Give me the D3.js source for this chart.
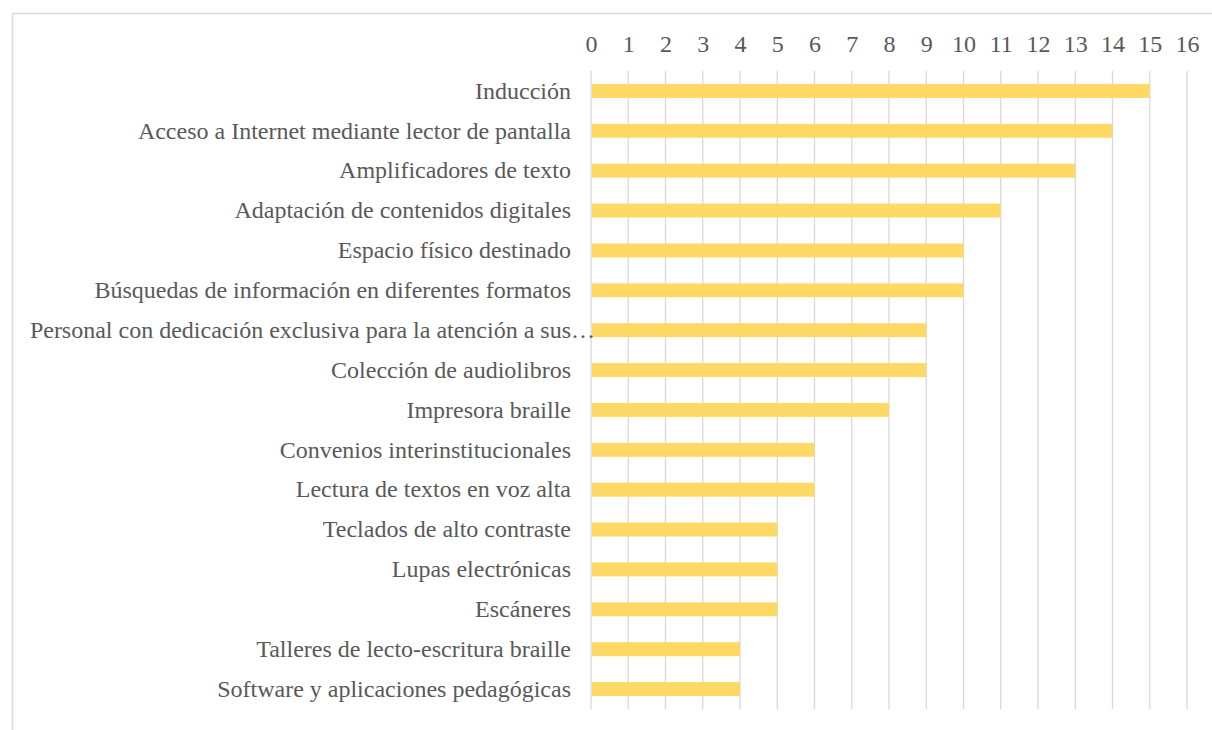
<!DOCTYPE html>
<html>
<head>
<meta charset="utf-8">
<script src="https://cdn.jsdelivr.net/npm/d3@7"></script>
<style>
  body { margin: 0; background: #fff; }
</style>
</head>
<body>
<div id="chart"></div>
<script>
var categories = [
  "Inducción",
  "Acceso a Internet mediante lector de pantalla",
  "Amplificadores de texto",
  "Adaptación de contenidos digitales",
  "Espacio físico destinado",
  "Búsquedas de información en diferentes formatos",
  "Personal con dedicación exclusiva para la atención a sus…",
  "Colección de audiolibros",
  "Impresora braille",
  "Convenios interinstitucionales",
  "Lectura de textos en voz alta",
  "Teclados de alto contraste",
  "Lupas electrónicas",
  "Escáneres",
  "Talleres de lecto-escritura braille",
  "Software y aplicaciones pedagógicas"
];
var values = [15, 14, 13, 11, 10, 10, 9, 9, 8, 6, 6, 5, 5, 5, 4, 4];
var tickValues = d3.range(0, 17);

var svgWidth = 1212;
var svgHeight = 730;
var fontFamily = "Liberation Serif";
var fontSize = "24px";

var margin = { top: 71, right: 25, bottom: 21, left: 591 };
var width = 1187 - margin.left;
var height = 709 - margin.top;

var svg = d3.select("#chart")
  .append("svg")
  .attr("width", svgWidth)
  .attr("height", svgHeight);

// chart border
svg.append("rect")
  .attr("x", 12.5)
  .attr("y", 13.5)
  .attr("width", 1260)
  .attr("height", 800)
  .attr("fill", "none")
  .attr("stroke", "#d9d9d9")
  .attr("stroke-width", 1.5);

var chartGroup = svg.append("g")
  .attr("transform", `translate(${margin.left}, ${margin.top})`);

var xScale = d3.scaleLinear()
  .domain([0, 16])
  .range([0, width]);

var yScale = d3.scaleBand()
  .domain(categories)
  .range([0, height])
  .paddingInner(0.65)
  .paddingOuter(0.325);

// gridlines
chartGroup.append("g")
  .selectAll("line")
  .data(tickValues)
  .enter()
  .append("line")
  .attr("x1", d => xScale(d))
  .attr("x2", d => xScale(d))
  .attr("y1", 0)
  .attr("y2", height)
  .attr("stroke", "#d9d9d9")
  .attr("stroke-width", 1.3);

// top axis labels
var topAxis = d3.axisTop(xScale)
  .tickValues(tickValues)
  .tickSize(0)
  .tickPadding(0);

var xAxis = chartGroup.append("g")
  .attr("transform", "translate(0, -19)")
  .call(topAxis);
xAxis.select(".domain").remove();
xAxis.selectAll("text")
  .style("font-family", fontFamily)
  .style("font-size", fontSize)
  .attr("fill", "#595959");

// bars
chartGroup.selectAll("rect.bar")
  .data(values)
  .enter()
  .append("rect")
  .attr("class", "bar")
  .attr("x", xScale(0) + 1)
  .attr("y", (d, i) => yScale(categories[i]))
  .attr("width", d => xScale(d) - xScale(0) - 1)
  .attr("height", yScale.bandwidth())
  .attr("fill", "#ffd966");

// category labels
var leftAxis = d3.axisLeft(yScale)
  .tickSize(0)
  .tickPadding(20);

var yAxis = chartGroup.append("g").call(leftAxis);
yAxis.select(".domain").remove();
yAxis.selectAll("text")
  .style("font-family", fontFamily)
  .style("font-size", fontSize)
  .attr("fill", "#595959");

// truncated label: ellipsis hangs past the label edge
yAxis.selectAll("text")
  .filter(d => d.endsWith("…"))
  .attr("dx", function () {
    var n = this.getNumberOfChars();
    return this.getSubStringLength(n - 1, 1);
  });
</script>
</body>
</html>
